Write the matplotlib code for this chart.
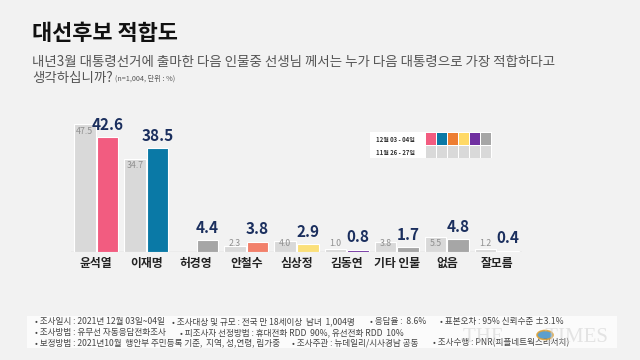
import numpy as np
import matplotlib.pyplot as plt
from matplotlib.patches import Rectangle, Circle

plt.rcParams['font.family'] = ['Noto Sans CJK KR', 'DejaVu Sans']

# Data
categories = ['윤석열', '이재명', '허경영', '안철수', '심상정', '김동연', '기타 인물', '없음', '잘모름']
dec_values = [42.6, 38.5, 4.4, 3.8, 2.9, 0.8, 1.7, 4.8, 0.4]      # 12월 03-04일
nov_values = [47.5, 34.7, None, 2.3, 4.0, 1.0, 3.8, 5.5, 1.2]     # 11월 26-27일
dec_colors = ['#f25c80', '#0a79a6', '#a6a6a6', '#f2806a', '#fbe07a',
              '#7030a0', '#a6a6a6', '#a6a6a6', '#a6a6a6']
legend_colors = ['#f25c80', '#0a79a6', '#ed7d31', '#ffd966', '#7030a0', '#a6a6a6']
legend_labels = ['12월 03 - 04일', '11월 26 - 27일']

footer_lines = [
    [(35, '• 조사일시 : 2021년 12월 03일~04일'),
     (172, '• 조사대상 및 규모 : 전국 만 18세이상  남녀  1,004명'),
     (370, '• 응답율 :  8.6%'),
     (440, '• 표본오차 : 95% 신뢰수준 ±3.1%')],
    [(35, '• 조사방법 : 유무선 자동응답전화조사'),
     (180, '• 피조사자 선정방법 : 휴대전화 RDD  90%, 유선전화 RDD  10%')],
    [(35, '• 보정방법 : 2021년10월  행안부 주민등록 기준,  지역, 성,연령, 림가중'),
     (292, '• 조사주관 : 뉴데일리/시사경남 공동'),
     (433, '• 조사수행 : PNR(피플네트웍스리서치)')],
]

W, H = 640, 360
bg = '#f2f2f2'
navy = '#1b2f5e'

fig = plt.figure(figsize=(6.4, 3.6), dpi=100, facecolor=bg)

def fx(px):
    return px / W

def fy(py):
    return 1 - py / H

# Title and question
fig.text(fx(32), fy(33), '대선후보 적합도', fontsize=15.8, fontweight='bold',
         color='#111111', va='center', ha='left')
fig.text(fx(32), fy(62), '내년3월 대통령선거에 출마한 다음 인물중 선생님 께서는 누가 다음 대통령으로 가장 적합하다고',
         fontsize=9.7, color='#555555', va='center', ha='left')
fig.text(fx(32), fy(78), '생각하십니까?', fontsize=9.7, color='#555555', va='center', ha='left')
fig.text(fx(115), fy(78.5), '(n=1,004, 단위 : %)', fontsize=5.2, color='#555555',
         va='center', ha='left')

# Bar chart
ax = fig.add_axes([fx(71), 108 / H, 451 / W, 134.5 / H])
ax.set_facecolor(bg)
x = np.arange(len(categories))
w = 0.43
off = 0.225

for i, v in enumerate(nov_values):
    if v is None:
        continue
    ax.bar(x[i] - off, v, width=w, color='#d9d9d9', edgecolor='white', linewidth=0.8, zorder=2)
    ly = max(v - 2.6, 3.0)
    ax.text(x[i] - off, ly, f'{v:.1f}', ha='center', va='center',
            fontsize=6.3, color='#8f8f8f', zorder=3)

for i, v in enumerate(dec_values):
    ax.bar(x[i] + off, v, width=w, color=dec_colors[i], edgecolor='white', linewidth=0.8, zorder=2)
    ax.text(x[i] + off, v + 2.8, f'{v:.1f}', ha='center', va='baseline',
            fontsize=11, fontweight='bold', color=navy, zorder=3)

for i, c in enumerate(categories):
    ax.text(x[i], -4.1, c, ha='center', va='center', fontsize=8.5,
            fontweight='bold', color='#222222', clip_on=False)

ax.axhline(0, color='#d0d0d0', linewidth=1, zorder=1)
ax.set_xlim(-0.5, len(categories) - 0.5)
ax.set_ylim(0, 50)
ax.axis('off')

# Legend table
fig.patches.append(Rectangle((fx(370), fy(158)), 122 / W, 26 / H, transform=fig.transFigure,
                             facecolor='white', edgecolor='none', zorder=1))
row_y = [139, 152]
for r, lab in enumerate(legend_labels):
    fig.text(fx(376), fy(row_y[r]), lab, fontsize=4.3, fontweight='bold',
             color='#333333', va='center', ha='left', zorder=3)
    for k, col in enumerate(legend_colors):
        c = col if r == 0 else '#d9d9d9'
        fig.patches.append(Rectangle((fx(426 + k * 11), fy(row_y[r] + 6)), 10 / W, 12 / H,
                                     transform=fig.transFigure, facecolor=c,
                                     edgecolor='none', zorder=2))

# Footer box
fig.patches.append(Rectangle((fx(27), fy(348)), 590 / W, 32 / H, transform=fig.transFigure,
                             facecolor='#fbfbfb', edgecolor='none', zorder=1))
line_y = [321.5, 332.5, 343]
for ly, segs in zip(line_y, footer_lines):
    for px, s in segs:
        fig.text(fx(px), fy(ly), s, fontsize=6.2, color='#444444',
                 va='center', ha='left', zorder=3)

# Watermark
fig.text(fx(463), fy(337), 'THE        TIMES', fontsize=15, color='#d4d4d4', alpha=0.6,
         family='Liberation Serif', va='center', ha='left', zorder=4)
fig.patches.append(Circle((fx(545), fy(335)), 8 / W, transform=fig.transFigure,
                          facecolor='#3f8fc8', edgecolor='#e0a030', linewidth=1.2,
                          alpha=0.85, zorder=4))

fig.savefig('out.png', dpi=100, facecolor=bg)
